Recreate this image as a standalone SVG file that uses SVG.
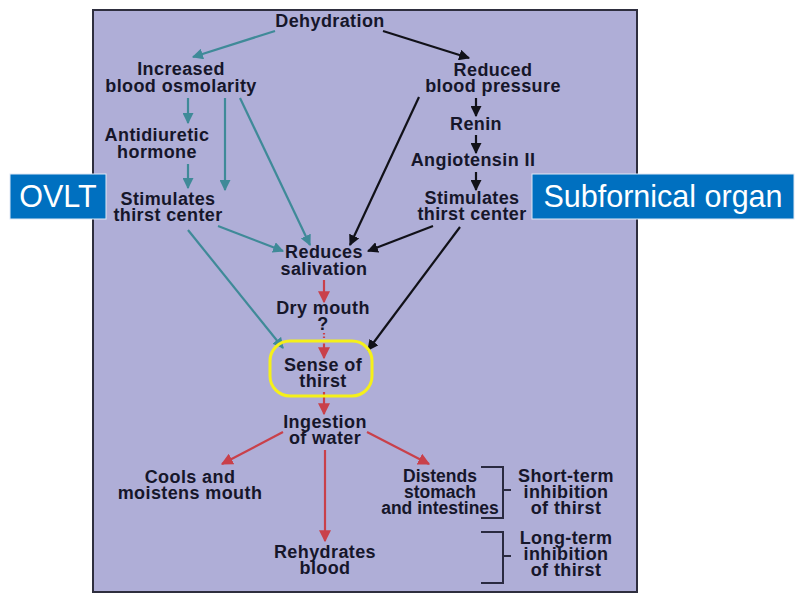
<svg xmlns="http://www.w3.org/2000/svg" width="801" height="601" viewBox="0 0 801 601">
<defs>
<style>
.t{font-family:"Liberation Sans",Arial,sans-serif;font-weight:bold;font-size:18px;letter-spacing:0.4px;fill:#16162a;text-anchor:middle}
.tn{font-size:17.5px;letter-spacing:0}
.tl{stroke:#3f8a98;stroke-width:2.2;fill:none}
.bk{stroke:#111118;stroke-width:2.2;fill:none}
.rd{stroke:#c9404a;stroke-width:2.2;fill:none}
.br{stroke:#2a2a40;stroke-width:2;fill:none}
.lab{font-family:"Liberation Sans",Arial,sans-serif;font-size:30.5px;fill:#ffffff;text-anchor:middle}
</style>
<marker id="aT" viewBox="0 0 10 10" refX="9" refY="5" markerWidth="11" markerHeight="11" markerUnits="userSpaceOnUse" orient="auto"><path d="M0,0 L10,5 L0,10 z" fill="#3f8a98"/></marker>
<marker id="aB" viewBox="0 0 10 10" refX="9" refY="5" markerWidth="11" markerHeight="11" markerUnits="userSpaceOnUse" orient="auto"><path d="M0,0 L10,5 L0,10 z" fill="#111118"/></marker>
<marker id="aR" viewBox="0 0 10 10" refX="9" refY="5" markerWidth="12" markerHeight="12" markerUnits="userSpaceOnUse" orient="auto"><path d="M0,0 L10,5 L0,10 z" fill="#c9404a"/></marker>
</defs>
<rect x="0" y="0" width="801" height="601" fill="#ffffff"/>
<rect id="panel" x="93" y="10" width="544" height="582" fill="#afaed7" stroke="#2e2e3e" stroke-width="2"/>

<g id="connectors">
<line class="tl" x1="275" y1="31" x2="193" y2="57" marker-end="url(#aT)"/>
<line class="tl" x1="188" y1="98" x2="188" y2="123" marker-end="url(#aT)"/>
<line class="tl" x1="225" y1="98" x2="225" y2="190" marker-end="url(#aT)"/>
<line class="tl" x1="188" y1="164" x2="188" y2="188" marker-end="url(#aT)"/>
<line class="tl" x1="240" y1="98" x2="310" y2="245" marker-end="url(#aT)"/>
<line class="tl" x1="218" y1="226" x2="283" y2="251" marker-end="url(#aT)"/>
<line class="tl" x1="188" y1="230" x2="283" y2="348" marker-end="url(#aT)"/>

<line class="bk" x1="383" y1="31" x2="469" y2="58" marker-end="url(#aB)"/>
<line class="bk" x1="476" y1="98" x2="476" y2="116" marker-end="url(#aB)"/>
<line class="bk" x1="476" y1="135" x2="476" y2="153" marker-end="url(#aB)"/>
<line class="bk" x1="476" y1="172" x2="476" y2="190" marker-end="url(#aB)"/>
<line class="bk" x1="419" y1="97" x2="350" y2="245" marker-end="url(#aB)"/>
<line class="bk" x1="433" y1="226" x2="368" y2="251" marker-end="url(#aB)"/>
<line class="bk" x1="460" y1="227" x2="368" y2="350" marker-end="url(#aB)"/>

<line class="rd" x1="324" y1="280" x2="324" y2="302" marker-end="url(#aR)"/>
<line class="rd" x1="324" y1="333" x2="324" y2="346" stroke-dasharray="1.5,2"/>
<line class="rd" x1="324" y1="345" x2="324" y2="358" marker-end="url(#aR)"/>
<line class="rd" x1="324" y1="392" x2="324" y2="414" marker-end="url(#aR)"/>
<line class="rd" x1="283" y1="432" x2="222" y2="464" marker-end="url(#aR)"/>
<line class="rd" x1="367" y1="432" x2="429" y2="464" marker-end="url(#aR)"/>
<line class="rd" x1="325" y1="450" x2="325" y2="541" marker-end="url(#aR)"/>

<path class="br" d="M481,467 H503 V518 H481 M503,490 H511"/>
<path class="br" d="M481,532 H503 V583 H481 M503,556 H511"/>
</g>

<g id="n-dehydration"><text class="t" x="330" y="27">Dehydration</text></g>
<g id="n-osmolarity"><text class="t" y="75"><tspan x="181">Increased</tspan><tspan x="181" dy="16.5">blood osmolarity</tspan></text></g>
<g id="n-adh"><text class="t" y="141"><tspan x="157">Antidiuretic</tspan><tspan x="157" dy="16.5">hormone</tspan></text></g>
<g id="n-stim-left"><text class="t" y="205"><tspan x="168">Stimulates</tspan><tspan x="168" dy="16">thirst center</tspan></text></g>
<g id="n-bp"><text class="t" y="76"><tspan x="493">Reduced</tspan><tspan x="493" dy="16">blood pressure</tspan></text></g>
<g id="n-renin"><text class="t" x="476" y="130">Renin</text></g>
<g id="n-ang"><text class="t" x="473" y="166">Angiotensin II</text></g>
<g id="n-stim-right"><text class="t" y="204"><tspan x="472">Stimulates</tspan><tspan x="472" dy="16">thirst center</tspan></text></g>
<g id="n-saliv"><text class="t" y="258"><tspan x="324">Reduces</tspan><tspan x="324" dy="16.5">salivation</tspan></text></g>
<g id="n-dry"><text class="t" y="314"><tspan x="323">Dry mouth</tspan><tspan x="323" dy="15.5">?</tspan></text></g>
<g id="n-sense"><rect x="270" y="341" width="102" height="55" rx="20" fill="none" stroke="#f5f01a" stroke-width="3"/><text class="t" y="371"><tspan x="323">Sense of</tspan><tspan x="323" dy="16">thirst</tspan></text></g>
<g id="n-ingest"><text class="t" y="428"><tspan x="325">Ingestion</tspan><tspan x="325" dy="16">of water</tspan></text></g>
<g id="n-cools"><text class="t" y="483"><tspan x="190">Cools and</tspan><tspan x="190" dy="16">moistens mouth</tspan></text></g>
<g id="n-distends"><text class="t tn" y="482"><tspan x="440">Distends</tspan><tspan x="440" dy="16">stomach</tspan><tspan x="440" dy="16">and intestines</tspan></text></g>
<g id="n-short"><text class="t" y="482"><tspan x="566">Short-term</tspan><tspan x="566" dy="16">inhibition</tspan><tspan x="566" dy="16">of thirst</tspan></text></g>
<g id="n-long"><text class="t" y="544"><tspan x="566">Long-term</tspan><tspan x="566" dy="16">inhibition</tspan><tspan x="566" dy="16">of thirst</tspan></text></g>
<g id="n-rehyd"><text class="t" y="558"><tspan x="325">Rehydrates</tspan><tspan x="325" dy="16">blood</tspan></text></g>

<g id="n-ovlt"><rect x="10" y="174" width="96" height="45" fill="#0070c0" stroke="#dfe8f5" stroke-width="1"/><text class="lab" x="58" y="207">OVLT</text></g>
<g id="n-sfo"><rect x="532" y="174" width="262" height="45" fill="#0070c0" stroke="#dfe8f5" stroke-width="1"/><text class="lab" x="663" y="207">Subfornical organ</text></g>
</svg>
